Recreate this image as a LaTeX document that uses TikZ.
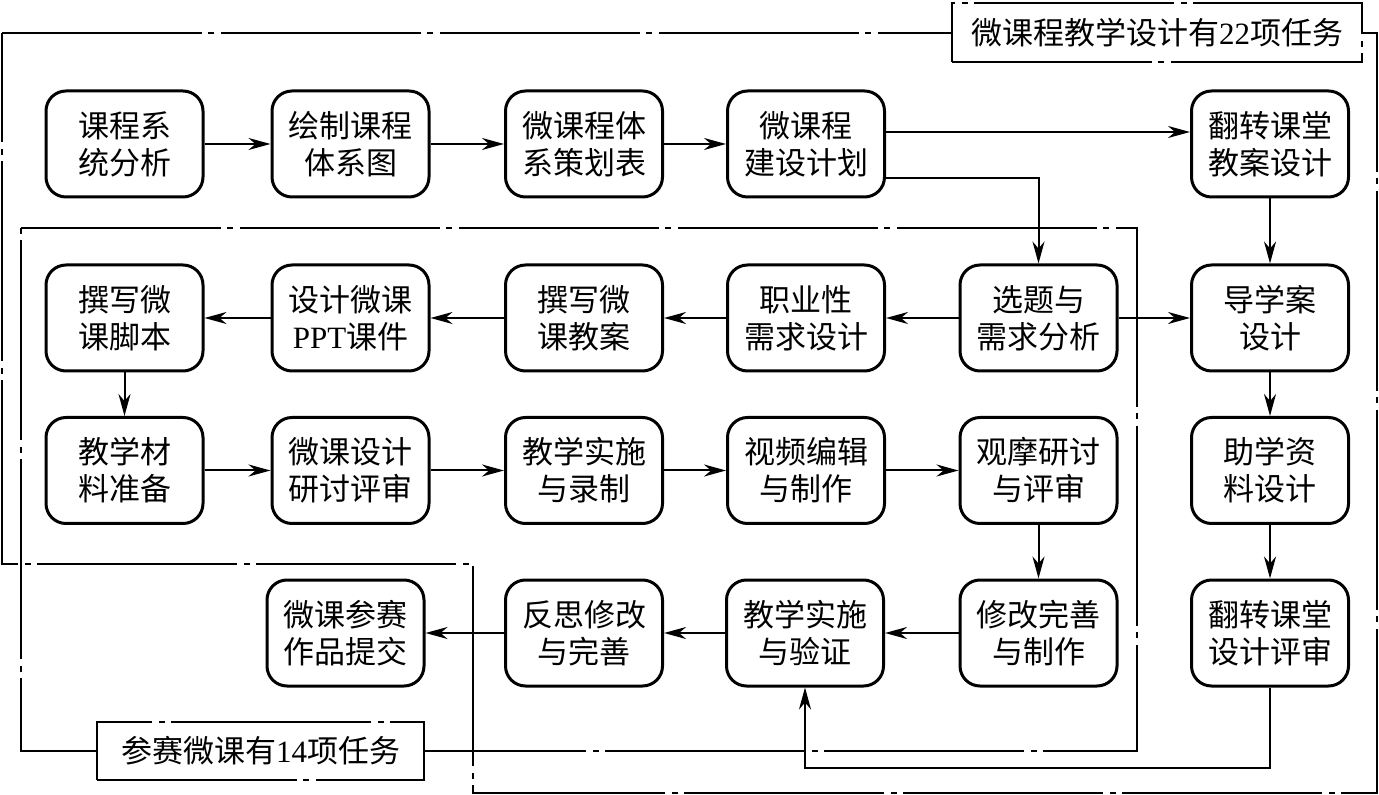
\documentclass[tikz,border=0pt]{standalone}
\usepackage{fontspec}
\setmainfont{Liberation Serif}
\newfontfamily\cjk{Noto Sans CJK SC}
\usepackage{tikz}
\usetikzlibrary{calc,arrows.meta}
\tikzset{stepbox/.style={draw=black, line width=1.5pt, rounded corners=10pt,
           minimum width=78.5pt, minimum height=53pt, align=center,
           inner sep=0pt, font=\cjk\fontsize{15.5}{18.5}\selectfont},
     zone/.style={draw=black, line width=1.1pt,
           dash pattern=on 100pt off 3pt on 3pt off 3.5pt},
     taskbox/.style={zone, fill=white, inner sep=0pt,
           font=\cjk\fontsize{15.5}{18.5}\selectfont},
     arr/.style={line width=1pt, -{Stealth[length=11pt,width=6pt,inset=3.5pt]}}
}
\def\StepNode#1#2#3#4{%
 \node[stepbox] (#1) at (#2,#3) {#4};
}

\begin{document}
\begin{tikzpicture}[x=0.5pt,y=-0.5pt]
\useasboundingbox (0,0) rectangle (1379,795);
\draw[zone] (2,33) -- (1377,33) -- (1377,793) -- (473,793) -- (473,564) -- (2,564) -- cycle;
\draw[zone] (21,228) -- (1137,228) -- (1137,751) -- (21,751) -- cycle;
\node[taskbox, minimum width=205pt, minimum height=29.5pt] (t22) at (1157,32.5) {微课程教学设计有{\rmfamily 22}项任务};
\node[taskbox, minimum width=163.5pt, minimum height=29pt] (t14) at (260.5,751) {参赛微课有{\rmfamily 14}项任务};

\StepNode{a1}{124.5}{144}{课程系\\统分析}
\StepNode{a2}{350.5}{144}{绘制课程\\体系图}
\StepNode{a3}{584}{144}{微课程体\\系策划表}
\StepNode{a4}{806}{144}{微课程\\建设计划}
\StepNode{a6}{1270}{144}{翻转课堂\\教案设计}
\StepNode{b1}{124.5}{318}{撰写微\\课脚本}
\StepNode{b2}{350.5}{318}{设计微课\\{\rmfamily PPT}课件}
\StepNode{b3}{584}{318}{撰写微\\课教案}
\StepNode{b4}{806}{318}{职业性\\需求设计}
\StepNode{b5}{1038.5}{318}{选题与\\需求分析}
\StepNode{b6}{1270}{318}{导学案\\设计}
\StepNode{c1}{124.5}{470.5}{教学材\\料准备}
\StepNode{c2}{350.5}{470.5}{微课设计\\研讨评审}
\StepNode{c3}{584}{470.5}{教学实施\\与录制}
\StepNode{c4}{806}{470.5}{视频编辑\\与制作}
\StepNode{c5}{1038.5}{470.5}{观摩研讨\\与评审}
\StepNode{c6}{1270}{470.5}{助学资\\料设计}
\StepNode{d2}{345.5}{633}{微课参赛\\作品提交}
\StepNode{d3}{584}{633}{反思修改\\与完善}
\StepNode{d4}{805}{633}{教学实施\\与验证}
\StepNode{d5}{1038.5}{633}{修改完善\\与制作}
\StepNode{d6}{1270}{633}{翻转课堂\\设计评审}

\foreach \s/\t in {a1/a2,a2/a3,a3/a4,b5/b4,b4/b3,b3/b2,b2/b1,b5/b6,
   c1/c2,c2/c3,c3/c4,c4/c5,d5/d4,d4/d3,d3/d2,a6/b6,b6/c6,c6/d6,b1/c1,c5/d5}
  \draw[arr] (\s) -- (\t);
\coordinate (h) at ([yshift=6pt]a4.east);
\draw[arr] (h) -- (h -| a6.west);
\draw[arr] ([yshift=-17pt]a4.east) -| (b5.north);
\draw[arr] (d6.south) -- ++(0,80) -| (d4.south);
\end{tikzpicture}
\end{document}
